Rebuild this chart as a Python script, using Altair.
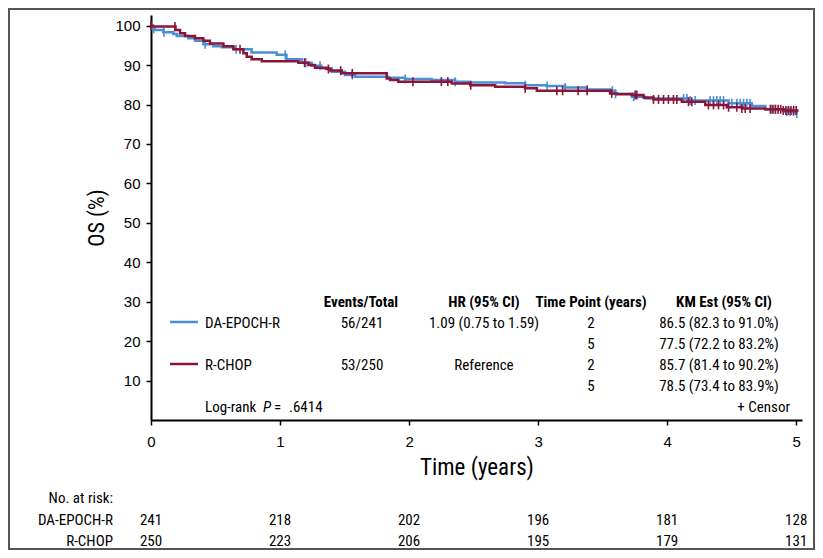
import altair as alt
import pandas as pd
import numpy as np

# ---- Kaplan-Meier step curves (time in years, OS %) ----
rchop_t = [0, 0.01, 0.19, 0.225, 0.264, 0.341, 0.406, 0.457, 0.561, 0.638, 0.716, 0.742, 0.78, 0.858,
           1.142, 1.22, 1.271, 1.36, 1.39, 1.478, 1.827, 1.853, 1.917, 2.331, 2.473, 2.667, 2.899, 2.99,
           3.558, 3.61, 3.726, 3.817, 3.894, 4.114, 4.295, 4.463, 4.579, 4.76, 4.9, 5.018]
rchop_s = [100, 99.8, 98.9, 98.1, 97.4, 96.8, 96.2, 95.5, 94.8, 94.0, 93.0, 92.1, 91.5, 91.0,
           90.6, 90.0, 89.3, 89.0, 88.6, 87.9, 86.6, 86.2, 85.8, 85.3, 84.9, 84.5, 84.1, 83.5,
           82.8, 82.6, 82.4, 81.8, 81.3, 80.7, 79.9, 79.3, 79.0, 78.8, 78.5, 78.5]

epoch_t = [0, 0.01, 0.03, 0.096, 0.173, 0.2, 0.289, 0.341, 0.406, 0.483, 0.548, 0.651, 0.78, 0.974,
           1.05, 1.168, 1.245, 1.32, 1.40, 1.504, 1.581, 1.84, 1.969, 2.175, 2.357, 2.46, 2.744, 2.899,
           3.067, 3.209, 3.377, 3.558, 3.597, 3.726, 3.829, 4.165, 4.476, 4.656, 4.76, 4.915, 5.0, 5.005]
epoch_s = [100, 99.2, 98.9, 98.3, 97.9, 97.4, 96.8, 96.2, 95.3, 94.8, 94.5, 94.0, 93.2, 92.6,
           91.5, 90.6, 89.8, 89.2, 88.3, 87.5, 87.05, 86.8, 86.5, 86.2, 85.8, 85.6, 85.4, 84.9,
           84.7, 84.3, 83.8, 83.5, 82.7, 82.0, 81.5, 81.0, 80.3, 79.6, 78.8, 78.2, 77.7, 77.7]

# ---- censor times ----
rchop_censor = [0.0, 0.186, 0.69, 1.19, 1.375, 1.47, 1.56, 2.03, 2.25, 2.30, 2.478, 2.9, 3.145, 3.19,
                3.31, 3.38, 3.57, 3.752, 3.765, 3.894, 3.933, 3.972, 4.01, 4.049, 4.075, 4.165, 4.191,
                4.32, 4.359, 4.398, 4.437, 4.476, 4.54, 4.579, 4.605, 4.643, 4.80, 4.82, 4.84, 4.86,
                4.88, 4.90, 4.92, 4.94, 4.96, 4.98, 5.0]
epoch_censor = [0.02, 0.10, 0.42, 0.66, 1.04, 1.20, 1.31, 1.56, 1.97, 2.357, 2.90, 3.07, 3.21, 3.38,
                3.575, 3.60, 3.74, 4.127, 4.153, 4.178, 4.217, 4.333, 4.359, 4.385, 4.411, 4.437,
                4.501, 4.54, 4.566, 4.592, 4.618, 4.643, 4.811, 4.837, 4.928, 4.953, 4.979, 5.005]

# ---- number at risk ----
risk_years = [0, 1, 2, 3, 4, 5]
risk_epoch = [241, 218, 202, 196, 181, 128]
risk_rchop = [250, 223, 206, 195, 179, 131]

# ---- in-plot table ----
headers = ["Events/Total", "HR (95% CI)", "Time Point (years)", "KM Est (95% CI)"]
arms = ["DA-EPOCH-R", "R-CHOP"]
events = ["56/241", "53/250"]
hrs = ["1.09 (0.75 to 1.59)", "Reference"]
time_points = ["2", "5", "2", "5"]
km_est = ["86.5 (82.3 to 91.0%)", "77.5 (72.2 to 83.2%)", "85.7 (81.4 to 90.2%)", "78.5 (73.4 to 83.9%)"]

BLUE = "#4a8ed6"
RED = "#8a1538"
NARROW = "Liberation Sans Narrow, Arial Narrow, Roboto Condensed, sans-serif"
REG = "Liberation Sans, Arial, Helvetica, sans-serif"

OX, OY = 151, 15  # page position of plot origin
W, H = 651, 405


def step_lookup(ts, ss, c):
    i = int(np.searchsorted(np.array(ts), c, side="right")) - 1
    return ss[max(i, 0)]


curve_epoch = pd.DataFrame({"t": epoch_t, "s": epoch_s})
curve_rchop = pd.DataFrame({"t": rchop_t, "s": rchop_s})
cens_epoch = pd.DataFrame({"t": epoch_censor, "s": [step_lookup(epoch_t, epoch_s, c) for c in epoch_censor]})
cens_rchop = pd.DataFrame({"t": rchop_censor, "s": [step_lookup(rchop_t, rchop_s, c) for c in rchop_censor]})

X = alt.X("t:Q", scale=alt.Scale(domain=[0, 5.045], nice=False, zero=False),
          axis=alt.Axis(values=risk_years, title=None, labelPadding=9, format="d"))
Y = alt.Y("s:Q", scale=alt.Scale(domain=[0, 102.7], nice=False),
          axis=alt.Axis(values=list(range(10, 101, 10)), title=None, labelPadding=6))

one = pd.DataFrame({"k": [0]})


def txt(s, px, py, align="center", size=15, weight="normal", font=NARROW, style="normal", angle=0,
        baseline="alphabetic"):
    return alt.Chart(one).mark_text(
        x=px - OX, y=py - OY, align=align, baseline=baseline, fontSize=size, fontWeight=weight,
        font=font, fontStyle=style, angle=angle, color="black"
    ).encode(text=alt.value(s))


def hline(color, x1, x2, y):
    return alt.Chart(one).mark_rule(color=color, strokeWidth=2.5).encode(
        x=alt.value(x1 - OX), x2=alt.value(x2 - OX), y=alt.value(y - OY))


line_epoch = alt.Chart(curve_epoch).mark_line(interpolate="step-after", color=BLUE, strokeWidth=2.5).encode(x=X, y=Y)
line_rchop = alt.Chart(curve_rchop).mark_line(interpolate="step-after", color=RED, strokeWidth=2.5).encode(x=X, y=Y)
tick_epoch = alt.Chart(cens_epoch).mark_tick(orient="vertical", size=9, thickness=1.6, color=BLUE, opacity=1).encode(x=X, y=Y)
tick_rchop = alt.Chart(cens_rchop).mark_tick(orient="vertical", size=9, thickness=1.6, color=RED, opacity=1).encode(x=X, y=Y)

layers = [line_epoch, tick_epoch, line_rchop, tick_rchop]

# table header
hx = [361, 484, 591, 724]
for h, x in zip(headers, hx):
    layers.append(txt(h, x, 306.5, weight="bold"))

row_y = [327.5, 348.5, 369.5, 390.5]
layers.append(hline(BLUE, 170, 198, 322))
layers.append(hline(RED, 170, 198, 364))
for i, arm in enumerate(arms):
    y = row_y[2 * i]
    layers.append(txt(arm, 205, y, align="left"))
    layers.append(txt(events[i], 362, y))
    layers.append(txt(hrs[i], 484, y))
for j in range(4):
    layers.append(txt(time_points[j], 591, row_y[j]))
    layers.append(txt(km_est[j], 719, row_y[j]))

layers.append(txt("Log-rank", 205, 411.5, align="left"))
layers.append(txt("P", 263, 411.5, align="left", style="italic"))
layers.append(txt("=", 274, 411.5, align="left"))
layers.append(txt(".6414", 289, 411.5, align="left"))
layers.append(txt("+ Censor", 790, 411.5, align="right"))

# axis titles
layers.append(txt("Time (years)", 477, 475, size=23))
layers.append(txt("OS (%)", 97, 218, size=22, angle=270, baseline="middle"))

# number at risk
layers.append(txt("No. at risk:", 113, 503, align="right"))
layers.append(txt(arms[0], 113, 525, align="right"))
layers.append(txt(arms[1], 113, 545.5, align="right"))
risk_df1 = pd.DataFrame({"t": risk_years, "n": risk_epoch})
risk_df2 = pd.DataFrame({"t": risk_years, "n": risk_rchop})
layers.append(alt.Chart(risk_df1).mark_text(baseline="alphabetic", fontSize=15, font=NARROW, color="black").encode(
    x=X, y=alt.value(525 - OY), text="n:N"))
layers.append(alt.Chart(risk_df2).mark_text(baseline="alphabetic", fontSize=15, font=NARROW, color="black").encode(
    x=X, y=alt.value(545.5 - OY), text="n:N"))

# outer frame
layers.append(alt.Chart(one).mark_rect(filled=False, stroke="#555555", strokeWidth=2).encode(
    x=alt.value(9 - OX), x2=alt.value(814 - OX), y=alt.value(9 - OY), y2=alt.value(549 - OY)))

chart = alt.layer(*layers).properties(
    width=W, height=H,
    padding={"left": 143, "top": 7, "right": 13, "bottom": 130},
    autosize=alt.AutoSizeParams(type="none"),
).configure_view(stroke="transparent").configure_axis(
    grid=False, domainColor="black", domainWidth=2, tickColor="black", tickWidth=1.5, tickSize=5,
    labelFont=REG, labelFontSize=15, labelColor="black", labelFlush=False
)

chart.save("out.html", embed_options={"renderer": "svg", "actions": False})
